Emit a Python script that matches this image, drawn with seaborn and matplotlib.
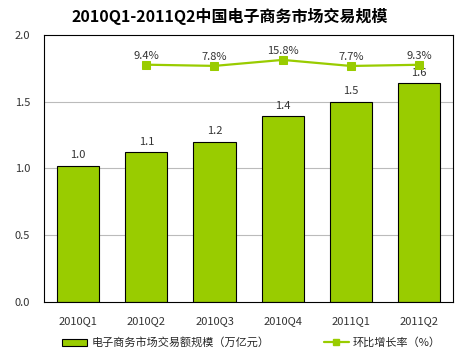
import matplotlib
matplotlib.use("Agg")
import matplotlib.pyplot as plt
import seaborn as sns
import pandas as pd
from matplotlib.patches import Patch
from matplotlib.lines import Line2D

quarters = ["2010Q1", "2010Q2", "2010Q3", "2010Q4", "2011Q1", "2011Q2"]
scale = [1.02, 1.12, 1.20, 1.39, 1.50, 1.64]
scale_labels = ["1.0", "1.1", "1.2", "1.4", "1.5", "1.6"]
growth_q = ["2010Q2", "2010Q3", "2010Q4", "2011Q1", "2011Q2"]
growth = [9.4, 7.8, 15.8, 7.7, 9.3]

sns.set_theme(style="white")
plt.rcParams['font.family'] = ['Noto Sans CJK SC', 'DejaVu Sans']

green = "#99CC00"
fig = plt.figure(figsize=(4.76, 3.59), dpi=100)
ax = fig.add_axes([0.0924, 0.159, 0.8597, 0.7435])

df = pd.DataFrame({"q": quarters, "v": scale})
sns.barplot(data=df, x="q", y="v", ax=ax, color=green, edgecolor="black",
            linewidth=0.8, width=0.62, saturation=1)
ax.set_ylim(0, 2.0)
ax.set_yticks([0, 0.5, 1.0, 1.5, 2.0])
ax.set_yticklabels(["0.0", "0.5", "1.0", "1.5", "2.0"], fontsize=8, color="#333333")
ax.set_xlabel("")
ax.set_ylabel("")
ax.tick_params(axis="x", labelsize=8, colors="#333333", pad=10, length=0)
ax.tick_params(axis="y", length=0, pad=10)
for yv in [0.5, 1.0, 1.5]:
    ax.axhline(yv, color="#BBBBBB", lw=0.8, zorder=0)
for s in ax.spines.values():
    s.set_color("black")
    s.set_linewidth(0.8)
for i, (v, lab) in enumerate(zip(scale, scale_labels)):
    ax.text(i, v + 0.04, lab, ha="center", va="bottom", fontsize=8, color="#333333")

ax2 = ax.twinx()
gdf = pd.DataFrame({"x": [quarters.index(q) for q in growth_q], "g": growth})
sns.lineplot(data=gdf, x="x", y="g", ax=ax2, color=green, marker="s",
             markersize=5.5, markeredgecolor=green, linewidth=1.6)
ax2.set_ylim(-307, 49)
ax2.set_yticks([])
ax2.set_ylabel("")
ax2.set_xlabel("")
for s in ax2.spines.values():
    s.set_visible(False)
for x, g in zip(gdf["x"], growth):
    ax2.text(x, g + 5.5, f"{g}%", ha="center", va="bottom", fontsize=8, color="#333333")

ax.set_xlim(-0.5, 5.5)
ax2.set_xlim(-0.5, 5.5)
ax.set_xticks(range(len(quarters)))
ax.set_xticklabels(quarters)

fig.text(0.483, 0.955, "2010Q1-2011Q2中国电子商务市场交易规模", ha="center", va="center",
         fontsize=11.5, fontweight="bold", color="black")

handles = [Patch(facecolor=green, edgecolor="black", linewidth=0.8),
           Line2D([0], [0], color=green, marker="s", markersize=4, lw=1.6)]
fig.legend([handles[0]], ["电子商务市场交易额规模（万亿元）"], loc="center left",
           bbox_to_anchor=(0.11, 0.045), frameon=False, fontsize=8,
           handlelength=2.2, handleheight=0.6, handletextpad=0.4)
fig.legend([handles[1]], ["环比增长率（%）"], loc="center left",
           bbox_to_anchor=(0.66, 0.045), frameon=False, fontsize=8,
           handlelength=2.2, handletextpad=0.4)

fig.savefig("out.png", dpi=100)
